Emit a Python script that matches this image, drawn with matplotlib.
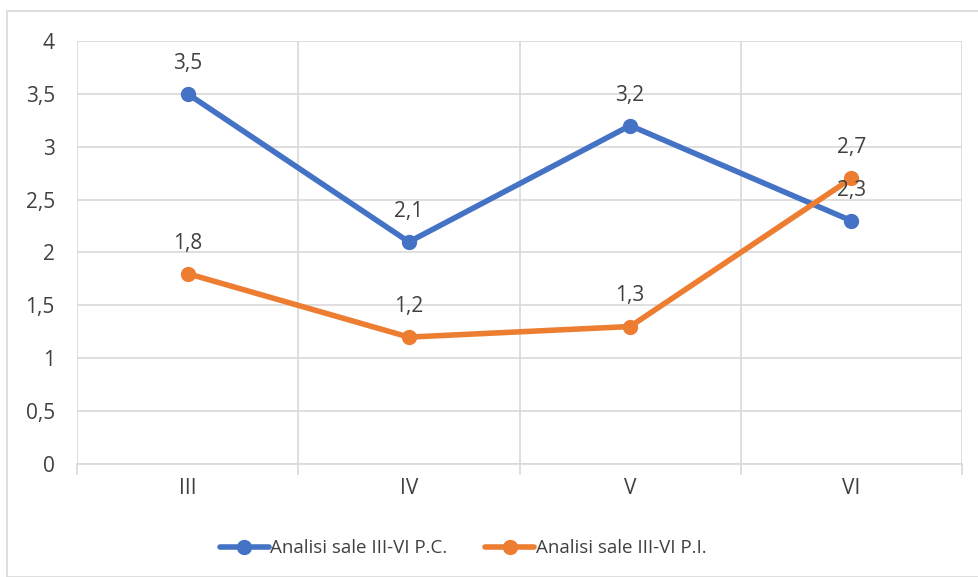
import matplotlib.pyplot as plt
import matplotlib.patches as mpatches
from matplotlib.ticker import FixedLocator, FuncFormatter

plt.rcParams['font.family'] = ['Open Sans', 'DejaVu Sans']

categories = ['III', 'IV', 'V', 'VI']
pc_values = [3.5, 2.1, 3.2, 2.3]
pi_values = [1.8, 1.2, 1.3, 2.7]
series_names = ['Analisi sale III-VI P.C.', 'Analisi sale III-VI P.I.']

blue = '#4472C4'
orange = '#ED7D31'
grid_c = '#D9D9D9'
text_c = '#404040'
fs = 15

fig = plt.figure(figsize=(9.79, 5.77), dpi=100)
ax = fig.add_axes([0.0787, 0.1958, 0.9039, 0.7332])

x = list(range(len(categories)))
for vals, color, name in [(pc_values, blue, series_names[0]), (pi_values, orange, series_names[1])]:
    ax.plot(x, vals, color=color, lw=4, marker='o', ms=10, label=name,
            solid_capstyle='round', zorder=3)
    for xi, v in zip(x, vals):
        ax.annotate(f'{v:.1f}'.replace('.', ','), (xi, v), xytext=(0, 22),
                    textcoords='offset points', ha='center', va='center',
                    fontsize=fs, color=text_c, zorder=4)

ax.set_xlim(-0.5, 3.5)
ax.set_ylim(0, 4)
ax.set_yticks([i * 0.5 for i in range(9)])
ax.yaxis.set_major_formatter(FuncFormatter(lambda v, p: f'{v:g}'.replace('.', ',')))
ax.set_xticks(x)
ax.set_xticklabels(categories)
ax.xaxis.set_minor_locator(FixedLocator([-0.5, 0.5, 1.5, 2.5, 3.5]))

ax.grid(axis='y', which='major', color=grid_c, lw=1.2, zorder=0)
ax.grid(axis='x', which='minor', color=grid_c, lw=1.2, zorder=0)
ax.tick_params(axis='x', which='major', length=0, pad=10, labelsize=fs, labelcolor=text_c)
ax.tick_params(axis='x', which='minor', length=8, width=1.2, color=grid_c)
ax.tick_params(axis='y', length=0, pad=16, labelsize=fs, labelcolor=text_c)
for s in ax.spines.values():
    s.set_visible(False)
ax.spines['bottom'].set_visible(True)
ax.spines['bottom'].set_color(grid_c)
ax.spines['bottom'].set_linewidth(1.2)

leg = fig.legend(loc='center', bbox_to_anchor=(0.473, 0.05), ncol=2, frameon=False,
                 fontsize=13.5, handlelength=2.6, handletextpad=0.1, columnspacing=2.0,
                 labelcolor=text_c)

fig.patches.append(mpatches.Rectangle((7 / 979, 0), 1, 1 - 11 / 577, transform=fig.transFigure,
                                      fill=False, edgecolor=grid_c, lw=1.2))

fig.savefig('out.png', dpi=100)
